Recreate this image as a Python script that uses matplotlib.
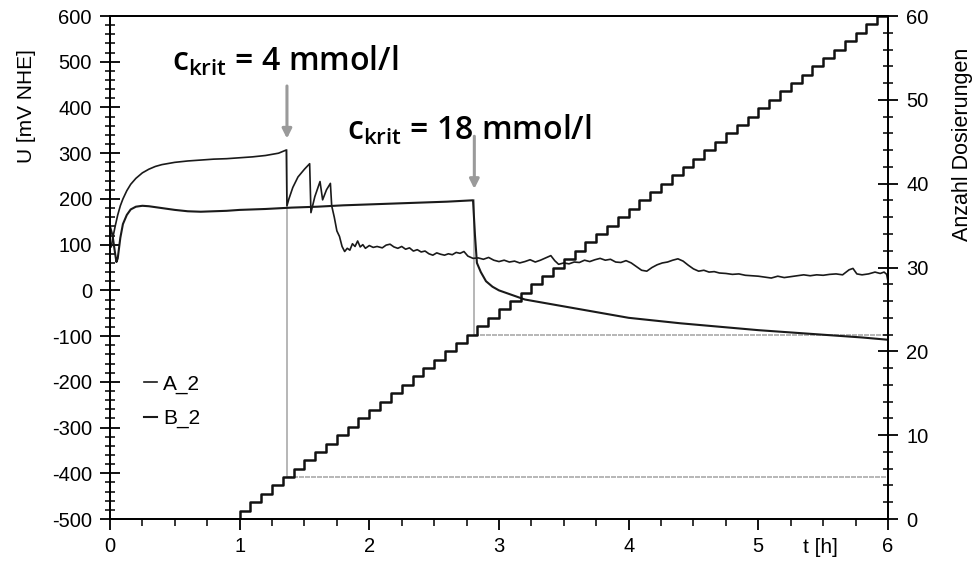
import numpy as np
import matplotlib.pyplot as plt
from matplotlib.ticker import MultipleLocator

plt.rcParams['font.family'] = ['Liberation Sans', 'DejaVu Sans']
plt.rcParams['axes.unicode_minus'] = False
plt.rcParams['mathtext.fontset'] = 'custom'
plt.rcParams['mathtext.rm'] = 'Open Sans:semibold'

# U curve A_2 (t in h, U in mV NHE)
a_t = [0.00, 0.01, 0.02, 0.04, 0.06, 0.08, 0.10, 0.13, 0.16, 0.20, 0.25, 0.30, 0.35, 0.40,
       0.50, 0.60, 0.70, 0.80, 0.90, 1.00, 1.10, 1.20, 1.30, 1.36, 1.365, 1.38, 1.41, 1.45,
       1.50, 1.54, 1.55, 1.58, 1.62, 1.64, 1.67, 1.70, 1.71, 1.73, 1.75, 1.77, 1.79, 1.81,
       1.83, 1.85, 1.87, 1.89, 1.91, 1.93, 1.95, 1.97, 2.00, 2.03, 2.06, 2.10, 2.13, 2.16,
       2.19, 2.22, 2.25, 2.28, 2.31, 2.34, 2.37, 2.40, 2.43, 2.46, 2.49, 2.52, 2.55, 2.58,
       2.61, 2.64, 2.67, 2.70, 2.73, 2.76, 2.80, 2.84, 2.88, 2.92, 2.96, 3.00, 3.04, 3.08,
       3.12, 3.16, 3.20, 3.24, 3.28, 3.32, 3.36, 3.40, 3.43, 3.46, 3.50, 3.54, 3.58, 3.62,
       3.66, 3.70, 3.74, 3.78, 3.82, 3.86, 3.90, 3.94, 3.98, 4.02, 4.06, 4.10, 4.14, 4.18,
       4.22, 4.26, 4.30, 4.34, 4.38, 4.42, 4.46, 4.50, 4.54, 4.58, 4.62, 4.66, 4.70, 4.75,
       4.80, 4.85, 4.90, 4.95, 5.00, 5.05, 5.10, 5.15, 5.20, 5.25, 5.30, 5.35, 5.40, 5.45,
       5.50, 5.55, 5.60, 5.65, 5.70, 5.73, 5.76, 5.80, 5.85, 5.90, 5.94, 5.97, 5.99, 6.00]
a_u = [100, 95, 112, 140, 165, 185, 200, 218, 232, 245, 257, 265, 271, 275,
       280, 283, 285, 287, 288, 290, 292, 295, 300, 307, 185, 200, 225, 248,
       265, 277, 170, 205, 238, 198, 220, 234, 185, 160, 130, 118, 96, 85,
       92, 88, 102, 96, 108, 95, 100, 92, 98, 94, 96, 93, 99, 101,
       95, 92, 96, 90, 93, 86, 89, 84, 86, 80, 77, 82, 79, 77,
       80, 78, 83, 81, 85, 75, 70, 71, 68, 72, 66, 63, 66, 62,
       64, 60, 63, 67, 62, 66, 71, 76, 65, 57, 60, 58, 62, 61,
       66, 63, 67, 70, 66, 68, 62, 61, 65, 60, 52, 44, 42, 50,
       56, 60, 62, 66, 69, 64, 55, 47, 42, 44, 40, 41, 38, 37,
       35, 36, 33, 32, 31, 29, 27, 31, 28, 30, 32, 34, 32, 34,
       33, 35, 36, 34, 45, 48, 36, 34, 36, 40, 37, 40, 35, 20]

# U curve B_2
b_t = [0.00, 0.02, 0.04, 0.05, 0.06, 0.08, 0.10, 0.13, 0.16, 0.20, 0.25, 0.30, 0.40, 0.50,
       0.60, 0.70, 0.80, 0.90, 1.00, 1.20, 1.40, 1.60, 1.80, 2.00, 2.20, 2.40, 2.60, 2.80,
       2.815, 2.83, 2.86, 2.90, 2.95, 3.00, 3.10, 3.20, 3.30, 3.40, 3.50, 3.60, 3.70, 3.80,
       3.90, 4.00, 4.20, 4.40, 4.60, 4.80, 5.00, 5.20, 5.40, 5.60, 5.80, 6.00]
b_u = [140, 120, 80, 62, 70, 115, 145, 165, 177, 183, 185, 184, 180, 176,
       173, 172, 173, 174, 176, 178, 181, 183, 186, 188, 190, 192, 194, 197,
       120, 60, 40, 20, 8, 0, -10, -20, -25, -30, -35, -40, -45, -50,
       -55, -60, -66, -72, -77, -82, -87, -91, -95, -99, -103, -108]

# dosing times (min), one dose each
dose_min = [60, 65, 70, 75, 80, 85, 90, 95, 100, 105, 110, 115, 120, 125, 130,
            135, 140, 145, 150, 155, 160, 165, 170, 175, 180, 185, 190, 195, 200, 205,
            210, 215, 220, 225, 230, 235, 240, 245, 250, 255, 260, 265, 270, 275, 280,
            285, 290, 295, 300, 305, 310, 315, 320, 325, 330, 335, 340, 345, 350, 355]

# critical points
krit_t = [1.365, 2.81]
krit_u = [307, 197]
krit_dose = [5, 22]
krit_label = [r'c$_\mathregular{krit}$ = 4 mmol/l', r'c$_\mathregular{krit}$ = 18 mmol/l']
label_pos = [(0.48, 500), (1.83, 350)]

U_LIM = (-500, 600)
N_LIM = (0, 60)

fig = plt.figure(figsize=(9.8, 5.74), dpi=100)
ax = fig.add_axes([0.1122, 0.0958, 0.7939, 0.8763])
ax2 = ax.twinx()

dose_t = np.array(dose_min) / 60.0
step_x = np.concatenate([[dose_t[0]], dose_t, [6.0]])
step_y = np.concatenate([[0], np.arange(1, len(dose_t) + 1), [len(dose_t)]])
ax2.step(step_x, step_y, where='post', color='#111111', lw=1.8)

la, = ax.plot(a_t, a_u, color='#1a1a1a', lw=1.2, label='A_2')
lb, = ax.plot(b_t, b_u, color='#1a1a1a', lw=1.5, label='B_2')

def dose_to_u(d):
    return U_LIM[0] + d * (U_LIM[1] - U_LIM[0]) / (N_LIM[1] - N_LIM[0])

for t, u, d, lab, pos in zip(krit_t, krit_u, krit_dose, krit_label, label_pos):
    ud = dose_to_u(d)
    ax.plot([t, t], [ud, u], color='#aaaaaa', lw=1.2, zorder=1)
    ax.plot([t, 6.0], [ud, ud], color='#aaaaaa', lw=1.2, ls=(0, (3, 0.6)), zorder=1)
    ax.annotate('', xy=(t, u + 25), xytext=(t, u + 140),
                arrowprops=dict(arrowstyle='-|>', color='#9a9a9a', lw=2.2,
                                mutation_scale=14, shrinkA=0, shrinkB=0))
    ax.text(pos[0], pos[1], lab, fontsize=23, family='Open Sans', fontweight='semibold',
            ha='left', va='center')

ax.set_xlim(0, 6)
ax.set_ylim(*U_LIM)
ax2.set_ylim(*N_LIM)

ax.xaxis.set_major_locator(MultipleLocator(1))
ax.xaxis.set_minor_locator(MultipleLocator(0.25))
ax.yaxis.set_major_locator(MultipleLocator(100))
ax.yaxis.set_minor_locator(MultipleLocator(20))
ax2.yaxis.set_major_locator(MultipleLocator(10))
ax2.yaxis.set_minor_locator(MultipleLocator(2))

ax.tick_params(axis='y', which='major', direction='inout', length=14, width=1.3, labelsize=14.5, pad=6)
ax.tick_params(axis='y', which='minor', direction='inout', length=7, width=1.1)
ax.tick_params(axis='x', which='major', direction='out', length=8, width=1.3, labelsize=14.5, pad=5)
ax.tick_params(axis='x', which='minor', direction='out', length=5, width=1.1)
ax2.tick_params(axis='y', which='major', direction='inout', length=14, width=1.3, labelsize=14.5, pad=6)
ax2.tick_params(axis='y', which='minor', direction='inout', length=7, width=1.1)

for a in (ax, ax2):
    for s in a.spines.values():
        s.set_linewidth(1.3)

ax.set_ylabel('U [mV NHE]', fontsize=15)
ax.yaxis.set_label_coords(-0.095, 0.82)
ax2.set_ylabel('Anzahl Dosierungen', fontsize=15.5, rotation=90)
ax2.yaxis.set_label_coords(1.082, 0.744)
ax.text(0.913, -0.057, 't [h]', transform=ax.transAxes, fontsize=15, ha='center', va='center')

ax.legend(handles=[la, lb], loc='upper left', bbox_to_anchor=(0.02, 0.325), frameon=False,
          handlelength=0.6, handletextpad=0.3, labelspacing=0.75, fontsize=15)

fig.savefig('out.png', dpi=100)
